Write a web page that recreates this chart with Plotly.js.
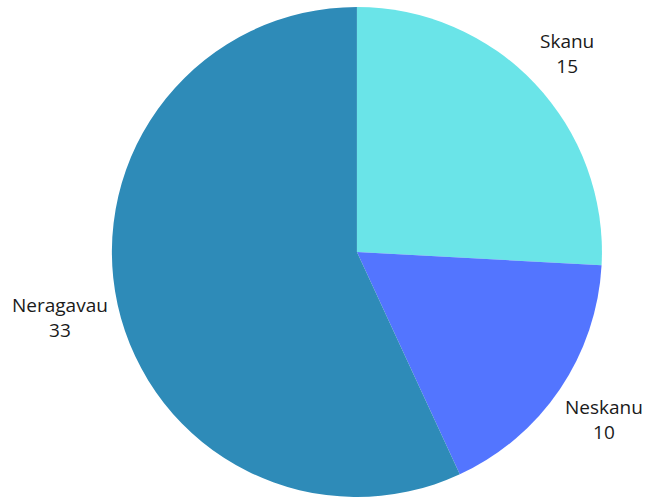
<!DOCTYPE html>
<html>
<head>
<meta charset="utf-8">
<script src="https://cdn.plot.ly/plotly-3.0.1.min.js"></script>
<style>html,body{margin:0;padding:0;background:#fff;}#chart{width:646px;height:497px;}</style>
</head>
<body>
<div id="chart"></div>
<script>
const labels = ["Skanu", "Neskanu", "Neragavau"];
const values = [15, 10, 33];
const colors = ["#6ae4e8", "#5375ff", "#2e8bb8"];

const W = 646, H = 497;
const domX = [0.173, 0.932], domY = [0, 0.986];
const fontFamily = "Open Sans, Roboto, sans-serif";
const fontSize = 19;
const textColor = "#1a1a1a";

const trace = {
  type: "pie",
  labels: labels,
  values: values,
  sort: false,
  direction: "clockwise",
  rotation: 0,
  domain: {x: domX, y: domY},
  marker: {colors: colors, line: {color: "#ffffff", width: 0}},
  textinfo: "none",
  hoverinfo: "label+value",
  showlegend: false
};

// label placement along each slice's mid-angle, just outside the rim
const cxPx = (domX[0] + domX[1]) / 2 * W;
const cyPx = (1 - (domY[0] + domY[1]) / 2) * H;
const R = Math.min((domX[1] - domX[0]) * W, (domY[1] - domY[0]) * H) / 2;
const total = values.reduce((a, b) => a + b, 0);
const ctx = document.createElement("canvas").getContext("2d");
ctx.font = fontSize + "px " + fontFamily;
const lineH = fontSize * 1.3;
let acc = 0;
const annotations = labels.map((lab, i) => {
  const mid = (acc + values[i] / 2) / total * 2 * Math.PI;
  acc += values[i];
  const ux = Math.sin(mid), uy = -Math.cos(mid);
  const w = Math.max(ctx.measureText(lab).width, ctx.measureText(String(values[i])).width);
  const h = 2 * lineH;
  const d = R + 7 + Math.abs(ux) * w / 2 + Math.abs(uy) * h / 2;
  const px = cxPx + ux * d, py = cyPx + uy * d;
  return {
    xref: "paper", yref: "paper",
    x: px / W, y: 1 - py / H,
    xanchor: "center", yanchor: "middle",
    text: lab + "<br>" + values[i],
    showarrow: false,
    font: {family: fontFamily, size: fontSize, color: textColor}
  };
});

const layout = {
  width: W,
  height: H,
  margin: {l: 0, r: 0, t: 0, b: 0},
  paper_bgcolor: "#ffffff",
  plot_bgcolor: "#ffffff",
  showlegend: false,
  annotations: annotations
};

Plotly.newPlot("chart", [trace], layout, {displayModeBar: false, staticPlot: true});
</script>
</body>
</html>
